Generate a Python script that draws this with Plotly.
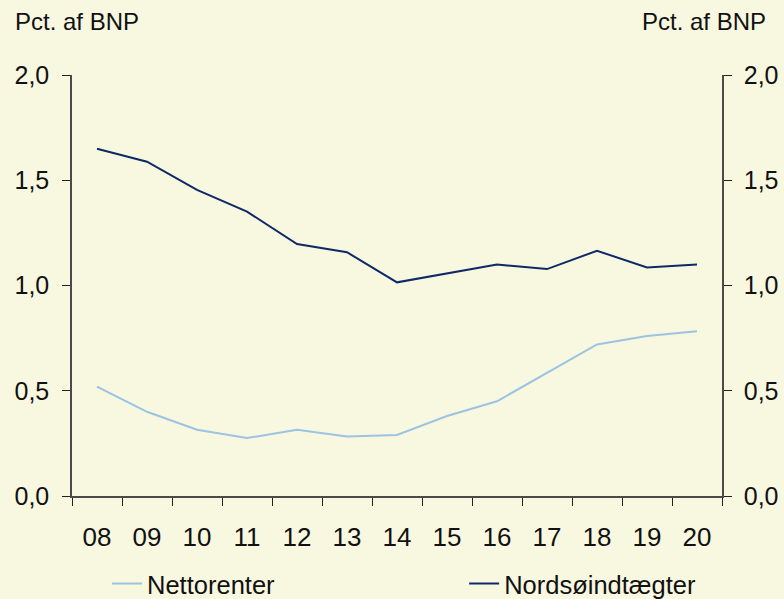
import plotly.graph_objects as go

years = ["08", "09", "10", "11", "12", "13", "14", "15", "16", "17", "18", "19", "20"]
nettorenter = [0.52, 0.40, 0.315, 0.275, 0.315, 0.283, 0.29, 0.38, 0.45, 0.585, 0.72, 0.76, 0.783]
nordsoe = [1.65, 1.588, 1.454, 1.351, 1.197, 1.158, 1.015, 1.058, 1.10, 1.078, 1.165, 1.086, 1.10]
y_label = "Pct. af BNP"

BG = "#F8F8E1"
FONT = "Liberation Sans, Arial, sans-serif"
AXC = "#4a4a4a"

fig = go.Figure()
fig.add_trace(go.Scatter(x=years, y=nettorenter, mode="lines", name="Nettorenter",
                         line=dict(color="#9CC3E2", width=2), legend="legend"))
fig.add_trace(go.Scatter(x=years, y=nordsoe, mode="lines", name="Nordsøindtægter",
                         line=dict(color="#0F2866", width=2), legend="legend2"))
# invisible trace so the right axis renders
fig.add_trace(go.Scatter(x=years, y=nordsoe, yaxis="y2", mode="lines", showlegend=False,
                         line=dict(width=0), hoverinfo="skip", opacity=0))

yax = dict(range=[0, 2], tick0=0, dtick=0.5, tickformat=".1f", ticks="outside", ticklen=8,
           tickcolor="#222", showline=True, linecolor=AXC, linewidth=1.5, showgrid=False,
           zeroline=False, tickfont=dict(family=FONT, size=25, color="#111"), fixedrange=True,
           automargin=False)

fig.update_layout(
    width=784, height=599,
    paper_bgcolor=BG, plot_bgcolor=BG,
    separators=",.",
    margin=dict(l=72, r=62, t=75, b=103, autoexpand=False),
    font=dict(family=FONT, color="#111"),
    xaxis=dict(type="category", range=[-0.5, 12.5], tickson="boundaries", ticks="outside",
               ticklen=8, tickcolor="#222", automargin=False,
               showline=True, linecolor=AXC, linewidth=1.5, showgrid=False,
               tickfont=dict(family=FONT, size=26, color="#111"), ticklabelstandoff=17),
    yaxis=dict(**yax, ticklabelstandoff=8),
    yaxis2=dict(**yax, overlaying="y", side="right", ticklabelstandoff=7),
    legend=dict(orientation="h", xref="container", yref="container", x=0.1365, y=0.025,
                xanchor="left", yanchor="middle", bgcolor="rgba(0,0,0,0)",
                font=dict(family=FONT, size=25.5, color="#111")),
    legend2=dict(orientation="h", xref="container", yref="container", x=0.592, y=0.025,
                 xanchor="left", yanchor="middle", bgcolor="rgba(0,0,0,0)",
                 font=dict(family=FONT, size=25.5, color="#111")),
    annotations=[
        dict(text=y_label, xref="paper", yref="paper", x=-0.091, y=1.126, xanchor="left",
             yanchor="middle", showarrow=False, font=dict(family=FONT, size=24, color="#111")),
        dict(text=y_label, xref="paper", yref="paper", x=1.0708, y=1.126, xanchor="right",
             yanchor="middle", showarrow=False, font=dict(family=FONT, size=24, color="#111")),
    ],
)

fig.write_html("out.html", config={"displayModeBar": False},
               post_script="document.body.style.margin='0';document.body.style.overflow='hidden';")
